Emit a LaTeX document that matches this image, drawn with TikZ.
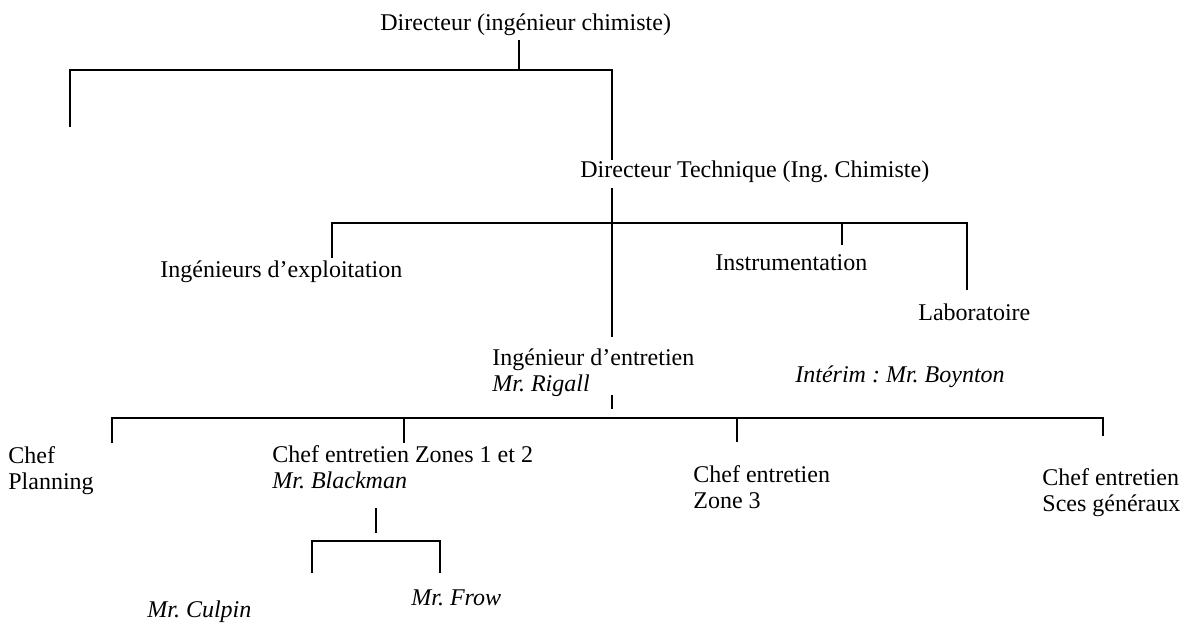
\documentclass[tikz,border=0pt]{standalone}
\usepackage{fontspec}
\setmainfont{Liberation Serif}
\frenchspacing
\begin{document}
\begin{tikzpicture}[x=0.5pt,y=-0.5pt]
            \tikzstyle{every node}+=[inner sep=0pt]
            \tikzstyle{poste}=[anchor=base west,align=left,font=\fontsize{12}{13}\selectfont]
            \tikzstyle{nom}=[poste,font=\fontsize{12}{13}\selectfont\itshape]
            \tikzstyle{trait}=[black,line width=0.75pt]
            \useasboundingbox (0,0) rectangle (1190,623);
            \node [poste] (dir) at (380,30) {Directeur (ingénieur chimiste)};
            \node [poste] (dtech) at (580,177) {Directeur Technique (Ing. Chimiste)};
            \node [poste] (exploit) at (160,277) {Ingénieurs d’exploitation};
            \node [poste] (instru) at (715,270) {Instrumentation};
            \node [poste] (labo) at (918,320) {Laboratoire};
            \node [poste] (ingent) at (492,391) {Ingénieur d’entretien\\\textit{Mr. Rigall}};
            \node [nom] (interim) at (795,382) {Intérim : Mr. Boynton};
            \node [poste] (planning) at (8,489) {Chef\\Planning};
            \node [poste] (zones) at (272,488) {Chef entretien Zones 1 et 2\\\textit{Mr. Blackman}};
            \node [poste] (zone3) at (693,508) {Chef entretien\\Zone 3};
            \node [poste] (sces) at (1042,511) {Chef entretien\\Sces généraux};
            \node [nom] (frow) at (411,605) {Mr. Frow};
            \node [nom] (culpin) at (147,617) {Mr. Culpin};
            \coordinate (d0) at (519,40);
            \coordinate (d1) at (519,70);
            \coordinate (dg) at (70,70);
            \coordinate (dg1) at (70,127);
            \coordinate (dd) at (612,70);
            \coordinate (dd1) at (612,160);
            \coordinate (t0) at (612,188);
            \coordinate (t1) at (612,223);
            \coordinate (t2) at (612,337);
            \coordinate (tg) at (332,223);
            \coordinate (tg1) at (332,258);
            \coordinate (ti) at (842,223);
            \coordinate (ti1) at (842,245);
            \coordinate (tl) at (967,223);
            \coordinate (tl1) at (967,290);
            \coordinate (e0) at (612,395);
            \coordinate (e1) at (612,409);
            \coordinate (ep) at (112,418);
            \coordinate (ep1) at (112,443);
            \coordinate (ez) at (404,418);
            \coordinate (ez1) at (404,443);
            \coordinate (e3) at (737,418);
            \coordinate (e31) at (737,442);
            \coordinate (es) at (1103,418);
            \coordinate (es1) at (1103,436);
            \coordinate (b0) at (376,508);
            \coordinate (b1) at (376,533);
            \coordinate (bc) at (312,541);
            \coordinate (bc1) at (312,573);
            \coordinate (bf) at (440,541);
            \coordinate (bf1) at (440,573);
            \draw [trait] (d0) -- (d1);
            \draw [trait] (dg1) -- (dg) -- (dd) -- (dd1);
            \draw [trait] (t0) -- (t2);
            \draw [trait] (tg1) -- (tg) -- (tl) -- (tl1);
            \draw [trait] (ti) -- (ti1);
            \draw [trait] (e0) -- (e1);
            \draw [trait] (ep1) -- (ep) -- (es) -- (es1);
            \draw [trait] (ez) -- (ez1);
            \draw [trait] (e3) -- (e31);
            \draw [trait] (b0) -- (b1);
            \draw [trait] (bc1) -- (bc) -- (bf) -- (bf1);
\end{tikzpicture}
\end{document}
